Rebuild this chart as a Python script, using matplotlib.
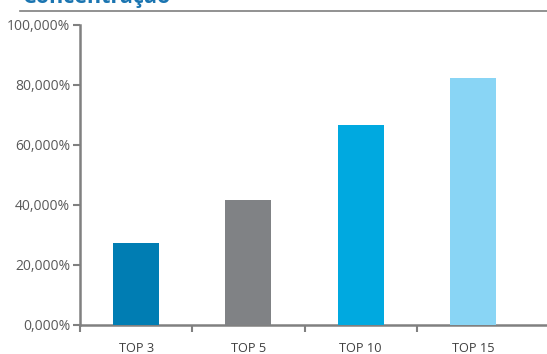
import numpy as np
import matplotlib
matplotlib.use('Agg')
import matplotlib.pyplot as plt
from matplotlib.lines import Line2D

categories = ['TOP 3', 'TOP 5', 'TOP 10', 'TOP 15']
values = [27.4, 41.8, 66.6, 82.3]
colors = ['#007db3', '#808285', '#00a9e0', '#89d5f5']
yticks = [0, 20, 40, 60, 80, 100]
ytick_labels = ['0,000%', '20,000%', '40,000%', '60,000%', '80,000%', '100,000%']
title = 'Concentração'

plt.rc('font', family=['Open Sans', 'DejaVu Sans'])
fig = plt.figure(figsize=(5.47, 3.54), dpi=100)
ax = fig.add_axes([80/547, 29/354, 467/547, 300/354])

x = np.arange(len(categories))
ax.bar(x, [v + 1.0 for v in values], bottom=-1.0, width=0.41, color=colors, zorder=3)

ax.set_xlim(-0.5, 3.66)
ax.set_ylim(0, 100)
ax.set_yticks(yticks)
ax.set_yticklabels(ytick_labels, fontsize=10, color='#595959')
ax.set_xticks(x)
ax.set_xticklabels(categories, fontsize=9.2, color='#404040')
ax.set_xticks([-0.5, 0.5, 1.5, 2.5], minor=True)
ax.tick_params(axis='x', which='major', length=0, pad=12.5)
ax.tick_params(axis='x', which='minor', length=5, width=1.5, color='#808080', direction='out')
ax.tick_params(axis='y', which='major', length=5, width=1.5, color='#808080', direction='out', pad=2)

for s in ['top', 'right']:
    ax.spines[s].set_visible(False)
for s in ['left', 'bottom']:
    ax.spines[s].set_color('#808080')
    ax.spines[s].set_linewidth(1.8)
ax.spines['bottom'].set_zorder(2)

# header: title cut at top and rule under it
fig.text(23/547, 1 - 2.5/354, title, fontsize=15.5, fontweight='bold', color='#1b75b1',
         ha='left', va='baseline')
fig.add_artist(Line2D([20/547, 1.0], [1 - 11/354, 1 - 11/354], color='#7f7f7f', lw=1.2))

plt.savefig('out.png', dpi=100)
plt.close()
